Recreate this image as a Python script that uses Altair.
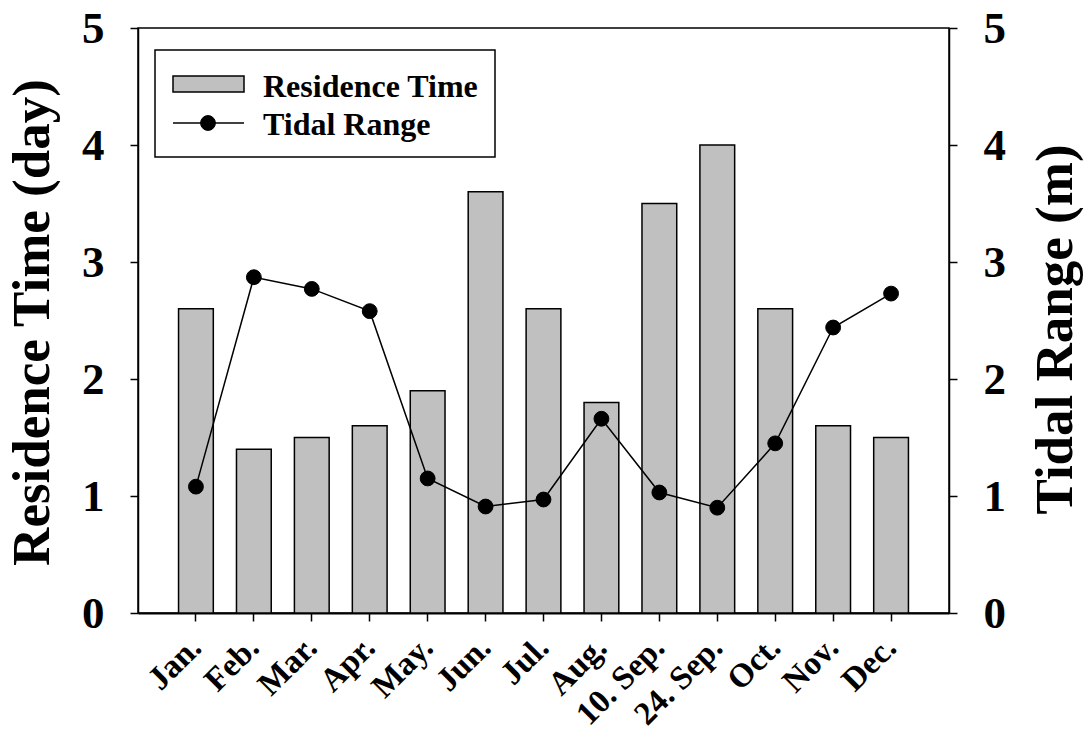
import altair as alt
import pandas as pd

# Sampling campaigns (two surveys in September)
months = ["Jan.", "Feb.", "Mar.", "Apr.", "May.", "Jun.", "Jul.", "Aug.",
          "10. Sep.", "24. Sep.", "Oct.", "Nov.", "Dec."]
# Residence time (day)
residence_time = [2.6, 1.4, 1.5, 1.6, 1.9, 3.6, 2.6, 1.8, 3.5, 4.0, 2.6, 1.6, 1.5]
# Tidal range (m)
tidal_range = [1.08, 2.87, 2.77, 2.58, 1.15, 0.91, 0.97, 1.66, 1.03, 0.90, 1.45, 2.44, 2.73]
series_names = ["Residence Time", "Tidal Range"]
y_ticks = [0, 1, 2, 3, 4, 5]

df = pd.DataFrame({"month": months, "residence": residence_time, "tidal": tidal_range})

FONT = "Liberation Serif"
W, H = 811, 585
BAR_GRAY = "#c0c0c0"
DOT_SIZE = 220

axis_common = dict(
    grid=False,
    domainColor="black",
    domainWidth=1.5,
    tickColor="black",
    tickWidth=1.5,
    tickSize=8,
    labelColor="black",
    labelFont=FONT,
    labelFontWeight="bold",
    titleColor="black",
    titleFont=FONT,
    titleFontWeight="bold",
)

x_enc = alt.X(
    "month:N",
    sort=months,
    scale=alt.Scale(paddingInner=0.4, paddingOuter=0.7),
    axis=alt.Axis(
        title=None,
        labelAngle=315,
        labelAlign="right",
        labelBaseline="middle",
        labelPadding=21,
        labelFontSize=33,
        **{**axis_common, "domainWidth": 2},
    ),
)

y_axis_style = dict(
    values=y_ticks,
    labelFontSize=45,
    labelPadding=26,
    titleFontSize=53,
    titleAngle=270,
    titleAlign="center",
    titleBaseline="middle",
    **axis_common,
)

bars = alt.Chart(df).mark_bar(
    fill=BAR_GRAY, stroke="black", strokeWidth=1.5
).encode(
    x=x_enc,
    y=alt.Y(
        "residence:Q",
        scale=alt.Scale(domain=[0, 5], nice=False),
        axis=alt.Axis(title="Residence Time (day)", orient="left",
                      titleX=-106, titleY=294, **y_axis_style),
    ),
)

tide = alt.Chart(df).mark_line(
    color="black",
    strokeWidth=1.5,
    point=alt.OverlayMarkDef(filled=True, color="black", stroke="black",
                             strokeWidth=1, size=DOT_SIZE, opacity=1),
).encode(
    x=x_enc,
    y=alt.Y(
        "tidal:Q",
        scale=alt.Scale(domain=[0, 5], nice=False),
        axis=alt.Axis(title="Tidal Range (m)", orient="right",
                      titleX=106, titleY=301, **y_axis_style),
    ),
)

# Legend box in the upper-left corner of the plot
one = pd.DataFrame({"label": [series_names[0]]})
two = pd.DataFrame({"label": [series_names[1]]})

legend_box = alt.Chart(one).mark_rect(
    fill="white", stroke="black", strokeWidth=1.5
).encode(x=alt.value(17), x2=alt.value(357), y=alt.value(22), y2=alt.value(129))

legend_bar = alt.Chart(one).mark_rect(
    fill=BAR_GRAY, stroke="black", strokeWidth=1.5
).encode(x=alt.value(35), x2=alt.value(106), y=alt.value(48), y2=alt.value(64))

legend_line = alt.Chart(two).mark_rule(color="black", strokeWidth=1.5).encode(
    x=alt.value(35), x2=alt.value(106), y=alt.value(95)
)

legend_dot = alt.Chart(two).mark_point(
    filled=True, color="black", stroke="black", strokeWidth=1,
    size=DOT_SIZE, opacity=1
).encode(x=alt.value(70), y=alt.value(95))

text_style = dict(align="left", baseline="alphabetic", font=FONT,
                  fontWeight="bold", fontSize=32, color="black")

legend_text1 = alt.Chart(one).mark_text(**text_style).encode(
    x=alt.value(125), y=alt.value(69), text="label:N"
)
legend_text2 = alt.Chart(two).mark_text(**text_style).encode(
    x=alt.value(125), y=alt.value(107), text="label:N"
)

chart = (
    alt.layer(bars, tide, legend_box, legend_bar, legend_line, legend_dot,
              legend_text1, legend_text2)
    .resolve_scale(y="independent")
    .properties(
        width=W,
        height=H,
        autosize=alt.AutoSizeParams(type="none"),
        padding={"left": 138, "top": 28, "right": 142, "bottom": 127},
        background="white",
    )
    .configure_view(stroke="black", strokeWidth=1.5)
)

chart.save("out.html", embed_options={"renderer": "svg", "actions": False})
